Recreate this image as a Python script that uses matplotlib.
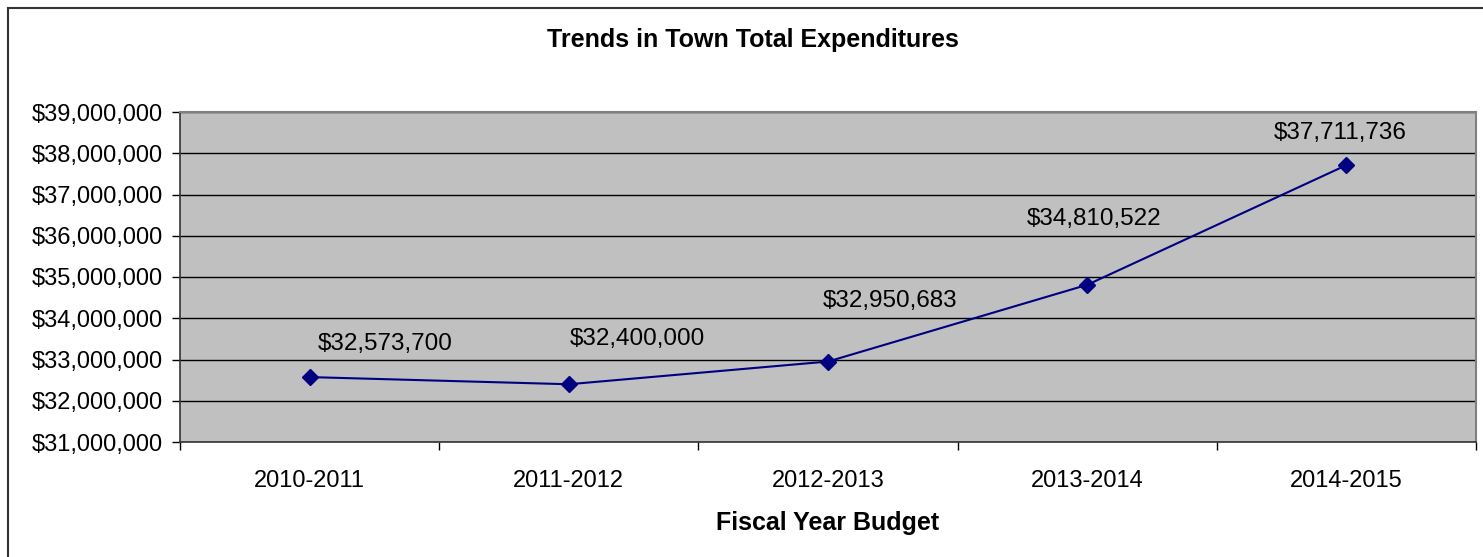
import matplotlib
matplotlib.use("Agg")
import matplotlib.pyplot as plt
from matplotlib.lines import Line2D
from matplotlib.ticker import FuncFormatter, FixedLocator

plt.rcParams['font.family'] = ['Liberation Sans', 'DejaVu Sans']

categories = ["2010-2011", "2011-2012", "2012-2013", "2013-2014", "2014-2015"]
values = [32573700, 32400000, 32950683, 34810522, 37711736]
y_ticks = [31000000, 32000000, 33000000, 34000000, 35000000, 36000000, 37000000, 38000000, 39000000]

# label offsets in pixels (style)
label_offsets = [(76, 33), (69, 45), (62, 61), (7, 66), (-6, 32)]

W, H = 1483, 557
fig = plt.figure(figsize=(W / 100, H / 100), dpi=100)
ax = fig.add_axes([180 / W, 1 - 442 / H, (1476 - 180) / W, (442 - 112) / H])
ax.set_facecolor('#c0c0c0')

x = list(range(len(categories)))
ax.plot(x, values, color='#000080', lw=1.5, marker='D', ms=8, zorder=3)

for xi, v, (dx, dy) in zip(x, values, label_offsets):
    ax.annotate(f"${v:,.0f}", (xi, v), xytext=(dx, dy), textcoords='offset pixels',
                ha='center', va='center', fontsize=17.5, color='black')

ax.set_xlim(-0.5, len(categories) - 0.5)
ax.set_ylim(y_ticks[0], y_ticks[-1])
ax.yaxis.set_major_locator(FixedLocator(y_ticks))
ax.yaxis.set_major_formatter(FuncFormatter(lambda v, p: f"${v:,.0f}"))
ax.grid(axis='y', color='black', lw=1)
ax.set_axisbelow(True)

ax.set_xticks(x)
ax.set_xticklabels(categories, fontsize=17)
ax.set_xticks([i - 0.5 for i in range(len(categories) + 1)], minor=True)
ax.tick_params(axis='x', which='major', length=0, pad=20)
ax.tick_params(axis='x', which='minor', length=6, width=1, direction='out')
ax.tick_params(axis='y', labelsize=17, length=6, width=1, direction='out', pad=6)

for side in ['top', 'right']:
    ax.spines[side].set_color('#808080')
    ax.spines[side].set_linewidth(1.5)
for side in ['left', 'bottom']:
    ax.spines[side].set_color('#333333')
    ax.spines[side].set_linewidth(1.2)

ax.set_xlabel("Fiscal Year Budget", fontsize=18, fontweight='bold', labelpad=14)
fig.text(753 / W, 1 - 40 / H, "Trends in Town Total Expenditures", ha='center', va='center',
         fontsize=18, fontweight='bold')

# outer chart frame
fig.add_artist(Line2D([8 / W, 8 / W], [0, 1 - 8 / H], color='#333333', lw=1.5, transform=fig.transFigure))
fig.add_artist(Line2D([8 / W, 1], [1 - 8 / H, 1 - 8 / H], color='#333333', lw=1.5, transform=fig.transFigure))

fig.savefig("out.png", dpi=100)
